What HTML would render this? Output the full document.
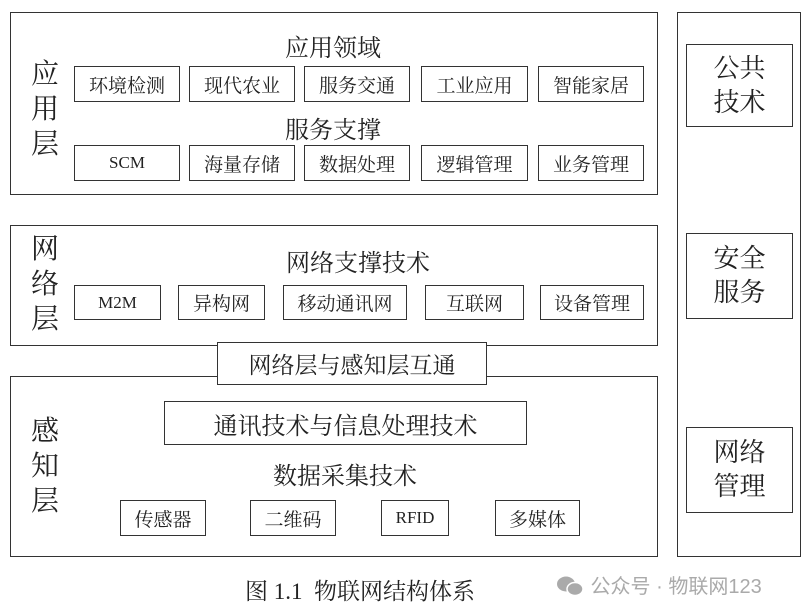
<!DOCTYPE html><html><head><meta charset="utf-8"><style>
body{margin:0;width:812px;height:613px;background:#fff;position:relative;overflow:hidden;font-family:"Liberation Serif","Noto Serif CJK SC",serif;color:#222}
.b{position:absolute;border:1.5px solid #333;box-sizing:border-box;background:#fff}
.c{display:flex;align-items:center;justify-content:center;font-size:19px}
.t{position:absolute;font-size:24px;white-space:nowrap;transform:translateX(-50%)}
.l{position:absolute;font-size:28px;line-height:35px;width:30px;text-align:center}
</style></head><body>
<div class="b" style="left:10px;top:12px;width:648px;height:183px"></div>
<div class="b" style="left:10px;top:225px;width:648px;height:121px"></div>
<div class="b" style="left:10px;top:376px;width:648px;height:181px"></div>
<div class="b c" style="left:217px;top:342px;width:270px;height:43px;font-size:23px">网络层与感知层互通</div>
<div class="b" style="left:677px;top:12px;width:124px;height:545px"></div>
<div class="b c" style="left:686px;top:44px;width:107px;height:83px;font-size:26px;line-height:34px;text-align:center">公共<br>技术</div>
<div class="b c" style="left:686px;top:233px;width:107px;height:86px;font-size:26px;line-height:34px;text-align:center">安全<br>服务</div>
<div class="b c" style="left:686px;top:427px;width:107px;height:86px;font-size:26px;line-height:34px;text-align:center">网络<br>管理</div>

<div class="l" style="left:30px;top:57px">应<br>用<br>层</div>
<div class="l" style="left:30px;top:232px">网<br>络<br>层</div>
<div class="l" style="left:30px;top:414px">感<br>知<br>层</div>

<div class="t" style="left:333px;top:28px">应用领域</div>
<div class="t" style="left:333px;top:110px">服务支撑</div>
<div class="b c" style="left:74px;top:66px;width:106px;height:36px">环境检测</div>
<div class="b c" style="left:189px;top:66px;width:106px;height:36px">现代农业</div>
<div class="b c" style="left:304px;top:66px;width:106px;height:36px">服务交通</div>
<div class="b c" style="left:421px;top:66px;width:107px;height:36px">工业应用</div>
<div class="b c" style="left:538px;top:66px;width:106px;height:36px">智能家居</div>
<div class="b c" style="left:74px;top:145px;width:106px;height:36px;font-size:17px">SCM</div>
<div class="b c" style="left:189px;top:145px;width:106px;height:36px">海量存储</div>
<div class="b c" style="left:304px;top:145px;width:106px;height:36px">数据处理</div>
<div class="b c" style="left:421px;top:145px;width:107px;height:36px">逻辑管理</div>
<div class="b c" style="left:538px;top:145px;width:106px;height:36px">业务管理</div>

<div class="t" style="left:358px;top:243px">网络支撑技术</div>
<div class="b c" style="left:74px;top:285px;width:87px;height:35px;font-size:17px">M2M</div>
<div class="b c" style="left:178px;top:285px;width:87px;height:35px">异构网</div>
<div class="b c" style="left:283px;top:285px;width:124px;height:35px">移动通讯网</div>
<div class="b c" style="left:425px;top:285px;width:99px;height:35px">互联网</div>
<div class="b c" style="left:540px;top:285px;width:104px;height:35px">设备管理</div>

<div class="b c" style="left:164px;top:401px;width:363px;height:44px;font-size:24px">通讯技术与信息处理技术</div>
<div class="t" style="left:345px;top:456px">数据采集技术</div>
<div class="b c" style="left:120px;top:500px;width:86px;height:36px">传感器</div>
<div class="b c" style="left:250px;top:500px;width:86px;height:36px">二维码</div>
<div class="b c" style="left:381px;top:500px;width:68px;height:36px;font-size:17px">RFID</div>
<div class="b c" style="left:495px;top:500px;width:85px;height:36px">多媒体</div>

<div style="position:absolute;left:245px;top:573px;font-size:23px;white-space:nowrap">图 1.1&nbsp; 物联网结构体系</div>
<div style="position:absolute;left:555px;top:570px;font-family:'Liberation Sans','Noto Sans CJK SC',sans-serif;font-size:20px;color:#aaa;white-space:nowrap">
<svg width="30" height="22" style="vertical-align:-4px"><ellipse cx="11" cy="9" rx="9" ry="7.5" fill="#aaa"/><ellipse cx="20" cy="14" rx="8" ry="6.5" fill="#aaa" stroke="#fff" stroke-width="1.5"/></svg> 公众号 · 物联网123</div>
</body></html>
